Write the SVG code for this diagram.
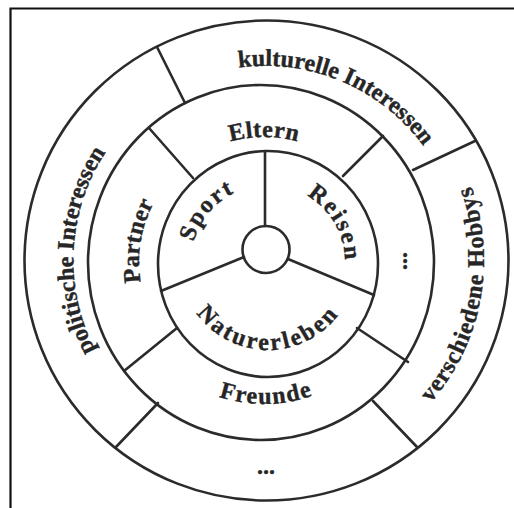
<svg xmlns="http://www.w3.org/2000/svg" xmlns:xlink="http://www.w3.org/1999/xlink" width="514" height="508" viewBox="0 0 514 508">
<style>
.ln{fill:none;stroke:#2b2b2b;stroke-width:2.6;stroke-linecap:round}
.fr{fill:none;stroke:#111;stroke-width:2.2}
.t{font-family:"Liberation Serif","Times New Roman",serif;font-weight:bold;font-size:24px;fill:#262626;stroke:#262626;stroke-width:0.4}
</style>
<defs>
<path id="pKult" d="M85.6,183.4 A196,196 0 0 1 446.4,336.6"/>
<path id="pPol" d="M255.7,455.7 A196,196 0 0 1 276.3,64.3"/>
<path id="pVer" d="M226.3,474.4 A218,218 0 0 0 305.7,45.6"/>
<path id="pElt" d="M139,262 A125,125 0 0 1 389,262"/>
<path id="pPar" d="M243.4,385.3 A125,125 0 0 1 284.6,138.7"/>
<path id="pFre" d="M122,264.5 A142,142 0 0 0 406,259.5"/>
<path id="pSpo" d="M218.5,321 A77,77 0 0 1 317.5,203"/>
<path id="pRei" d="M229.5,195.3 A77,77 0 0 1 306.5,328.7"/>
<path id="pNat" d="M180,262 A88,88 0 0 0 356,262"/>
</defs>
<rect width="514" height="508" fill="#fff"/>
<path class="fr" d="M10.5,508 V8.5 H514"/>
<g id="connectors">
<ellipse class="ln" cx="266.5" cy="260.5" rx="242" ry="240"/>
<ellipse class="ln" cx="261" cy="262.5" rx="173" ry="177.5"/>
<ellipse class="ln" cx="268" cy="264" rx="110" ry="113"/>
<line class="ln" x1="265" y1="226" x2="265" y2="151"/>
<line class="ln" x1="244" y1="257" x2="161" y2="291"/>
<line class="ln" x1="288" y1="259" x2="374" y2="295"/>
<line class="ln" x1="149" y1="128" x2="193" y2="178"/>
<line class="ln" x1="383" y1="136" x2="343" y2="176"/>
<line class="ln" x1="124" y1="371" x2="177" y2="328"/>
<line class="ln" x1="357" y1="328" x2="408" y2="362"/>
<line class="ln" x1="157" y1="47" x2="185" y2="103"/>
<line class="ln" x1="475" y1="141" x2="413" y2="170"/>
<line class="ln" x1="116" y1="447" x2="158" y2="403"/>
<line class="ln" x1="373" y1="401" x2="417" y2="447"/>
</g>
<g id="hub"><circle class="ln" cx="266" cy="249.5" r="23.5" fill="#fff"/></g>
<g id="kulturelle"><text class="t"><textPath href="#pKult" startOffset="50%" text-anchor="middle">kulturelle Interessen</textPath></text></g>
<g id="politische"><text class="t"><textPath href="#pPol" startOffset="50%" text-anchor="middle">politische Interessen</textPath></text></g>
<g id="hobbys"><text class="t" letter-spacing="0.8"><textPath href="#pVer" startOffset="50%" text-anchor="middle">verschiedene Hobbys</textPath></text></g>
<g id="dots-outer"><text class="t" x="266" y="474" text-anchor="middle">...</text></g>
<g id="eltern"><text class="t" letter-spacing="0.5"><textPath href="#pElt" startOffset="50%" text-anchor="middle">Eltern</textPath></text></g>
<g id="partner"><text class="t" letter-spacing="0.3"><textPath href="#pPar" startOffset="50%" text-anchor="middle">Partner</textPath></text></g>
<g id="freunde"><text class="t" letter-spacing="1.5"><textPath href="#pFre" startOffset="50%" text-anchor="middle">Freunde</textPath></text></g>
<g id="dots-middle"><text class="t" x="407" y="261" text-anchor="middle" transform="rotate(-90 407 261)">...</text></g>
<g id="sport"><text class="t" letter-spacing="2"><textPath href="#pSpo" startOffset="50%" text-anchor="middle">Sport</textPath></text></g>
<g id="reisen"><text class="t" letter-spacing="2"><textPath href="#pRei" startOffset="50%" text-anchor="middle">Reisen</textPath></text></g>
<g id="naturerleben"><text class="t" letter-spacing="2.5"><textPath href="#pNat" startOffset="50%" text-anchor="middle">Naturerleben</textPath></text></g>
</svg>
